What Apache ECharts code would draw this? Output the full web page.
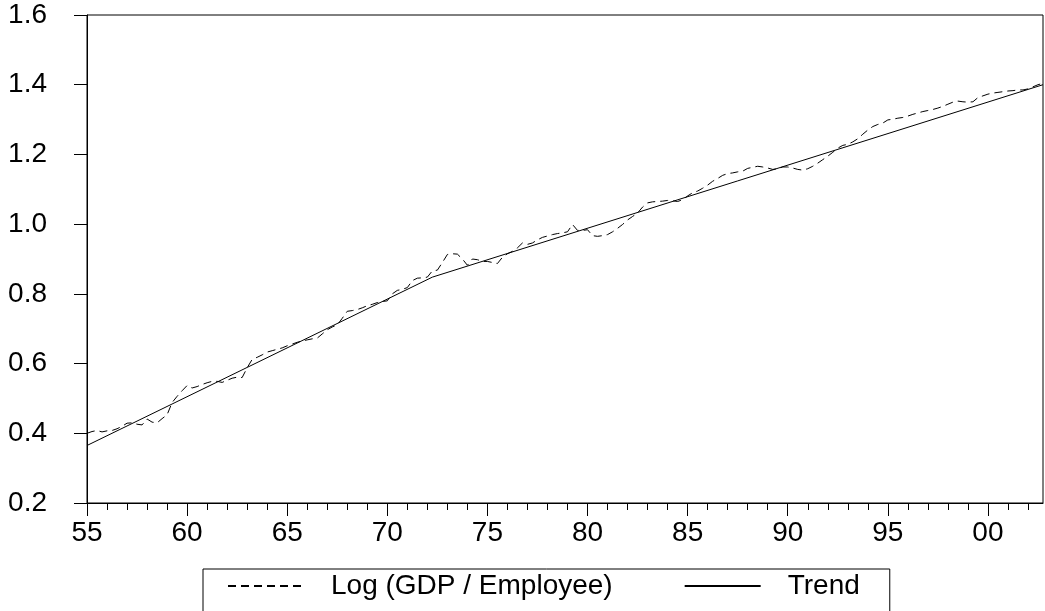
<!DOCTYPE html>
<html>
<head>
<meta charset="utf-8">
<script src="https://cdn.jsdelivr.net/npm/echarts@6/dist/echarts.min.js"></script>
<style>
html,body{margin:0;padding:0;background:#fff;}
#chart{width:1045px;height:611px;}
</style>
</head>
<body>
<div id="chart"></div>
<script>
// ---- DATA ----
var startYear = 1955; // first quarter 1955Q1, quarterly observations
var logGdpPerEmployee = [
  0.400, 0.405, 0.408, 0.404,   // 1955
  0.407, 0.408, 0.413, 0.420,   // 1956
  0.429, 0.430, 0.426, 0.424,   // 1957
  0.441, 0.432, 0.430, 0.442,   // 1958
  0.453, 0.488, 0.506, 0.522,   // 1959
  0.537, 0.530, 0.534, 0.540,   // 1960
  0.545, 0.549, 0.549, 0.546,   // 1961
  0.552, 0.558, 0.561, 0.560,   // 1962
  0.588, 0.612, 0.618, 0.625,   // 1963
  0.633, 0.637, 0.641, 0.645,   // 1964
  0.651, 0.656, 0.661, 0.665,   // 1965
  0.668, 0.671, 0.673, 0.685,   // 1966
  0.697, 0.705, 0.711, 0.730,   // 1967
  0.750, 0.752, 0.755, 0.760,   // 1968
  0.766, 0.770, 0.775, 0.778,   // 1969
  0.780, 0.800, 0.810, 0.813,   // 1970
  0.818, 0.838, 0.845, 0.846,   // 1971
  0.848, 0.866, 0.868, 0.890,   // 1972
  0.913, 0.915, 0.914, 0.900,   // 1973
  0.882, 0.900, 0.898, 0.893,   // 1974
  0.893, 0.890, 0.887, 0.905,   // 1975
  0.915, 0.922, 0.932, 0.946,   // 1976
  0.942, 0.946, 0.955, 0.962,   // 1977
  0.966, 0.970, 0.973, 0.975,   // 1978
  0.978, 0.999, 0.982, 0.982,   // 1979
  0.984, 0.967, 0.965, 0.967,   // 1980
  0.970, 0.978, 0.988, 0.999,   // 1981
  1.012, 1.022, 1.032, 1.049,   // 1982
  1.061, 1.064, 1.065, 1.066,   // 1983
  1.068, 1.067, 1.065, 1.070,   // 1984
  1.081, 1.090, 1.095, 1.103,   // 1985
  1.112, 1.123, 1.131, 1.140,   // 1986
  1.145, 1.147, 1.150, 1.152,   // 1987
  1.160, 1.163, 1.166, 1.164,   // 1988
  1.161, 1.157, 1.159, 1.164,   // 1989
  1.164, 1.161, 1.157, 1.155,   // 1990
  1.159, 1.166, 1.175, 1.185,   // 1991
  1.195, 1.206, 1.218, 1.226,   // 1992
  1.229, 1.236, 1.245, 1.258,   // 1993
  1.270, 1.280, 1.286, 1.290,   // 1994
  1.299, 1.301, 1.304, 1.306,   // 1995
  1.310, 1.315, 1.319, 1.323,   // 1996
  1.326, 1.329, 1.333, 1.338,   // 1997
  1.344, 1.350, 1.353, 1.351,   // 1998
  1.350, 1.351, 1.363, 1.368,   // 1999
  1.373, 1.376, 1.378, 1.380,   // 2000
  1.382, 1.383, 1.385, 1.385,   // 2001
  1.388, 1.394, 1.400, 1.404    // 2002
];
var trendYears  = [1955, 1972.25, 2002.75];
var trendValues = [0.365, 0.848, 1.400];
var majorTickYears = [1955, 1960, 1965, 1970, 1975, 1980, 1985, 1990, 1995, 2000];
var majorTickLabels = ['55', '60', '65', '70', '75', '80', '85', '90', '95', '00'];
var minorTickYears = [1955,1956,1957,1958,1959,1960,1961,1962,1963,1964,1965,1966,1967,1968,1969,
  1970,1971,1972,1973,1974,1975,1976,1977,1978,1979,1980,1981,1982,1983,1984,1985,1986,1987,1988,
  1989,1990,1991,1992,1993,1994,1995,1996,1997,1998,1999,2000,2001,2002];
var seriesNames = ['Log (GDP / Employee)', 'Trend'];

// ---- BUILD ----
var logPairs = logGdpPerEmployee.map(function (v, i) { return [startYear + i / 4, v]; });
var trendPairs = trendYears.map(function (y, i) { return [y, trendValues[i]]; });

var FONT = '"Liberation Sans", Arial, Helvetica, sans-serif';
var FS = 28;
var chart = echarts.init(document.getElementById('chart'), null, { renderer: 'canvas' });

chart.setOption({
  animation: false,
  backgroundColor: '#fff',
  textStyle: { fontFamily: FONT, color: '#000' },
  grid: {
    left: 87, right: 2, top: 15, bottom: 108,
    show: true, borderColor: '#000', borderWidth: 1, backgroundColor: 'transparent'
  },
  xAxis: [
    {
      type: 'value', min: 1955, max: 2002.75, interval: 5,
      axisLine: { show: true, onZero: false, lineStyle: { color: '#000', width: 1 } },
      axisTick: { show: true, length: 13, inside: false, customValues: majorTickYears, lineStyle: { color: '#000', width: 1 } },
      axisLabel: {
        show: true, margin: 16, fontSize: FS, fontFamily: FONT, color: '#000',
        customValues: majorTickYears,
        formatter: function (v) {
          var r = Math.round(v);
          var idx = majorTickYears.indexOf(r);
          return (idx >= 0 && Math.abs(v - r) < 1e-6) ? majorTickLabels[idx] : '';
        }
      },
      splitLine: { show: false }
    },
    {
      type: 'value', min: 1955, max: 2002.75, interval: 1, position: 'bottom',
      axisLine: { show: false, onZero: false },
      axisTick: { show: true, length: 7, inside: false, customValues: minorTickYears, lineStyle: { color: '#000', width: 1 } },
      axisLabel: { show: false },
      splitLine: { show: false }
    }
  ],
  yAxis: {
    type: 'value', min: 0.2, max: 1.6, interval: 0.2,
    axisLine: { show: true, onZero: false, lineStyle: { color: '#000', width: 1 } },
    axisTick: { show: true, length: 13, inside: false, lineStyle: { color: '#000', width: 1 } },
    axisLabel: {
      margin: 40, fontSize: FS, fontFamily: FONT, color: '#000',
      formatter: function (v) { return v.toFixed(1); }
    },
    splitLine: { show: false }
  },
  legend: {
    show: true,
    data: seriesNames,
    orient: 'horizontal',
    left: 203, top: 569,
    padding: [3, 30, 40, 24],
    itemWidth: 76, itemHeight: 28, itemGap: 71,
    borderColor: '#000', borderWidth: 1, borderRadius: 0,
    backgroundColor: '#fff',
    selectedMode: false,
    itemStyle: { color: 'rgba(0,0,0,0)', borderWidth: 0, opacity: 0 },
    textStyle: { fontSize: FS, fontFamily: FONT, color: '#000', padding: [0, 0, 14, 22] }
  },
  series: [
    {
      name: seriesNames[0], type: 'line', xAxisIndex: 0,
      data: logPairs, symbol: 'none', showSymbol: false, smooth: false,
      lineStyle: { color: '#000', width: 1, type: [8, 5] },
      itemStyle: { color: '#000' },
      emphasis: { disabled: true }, z: 3
    },
    {
      name: seriesNames[1], type: 'line', xAxisIndex: 0,
      data: trendPairs, symbol: 'none', showSymbol: false, smooth: false,
      lineStyle: { color: '#000', width: 1, type: 'solid' },
      itemStyle: { color: '#000' },
      emphasis: { disabled: true }, z: 2
    }
  ]
});
</script>
</body>
</html>
